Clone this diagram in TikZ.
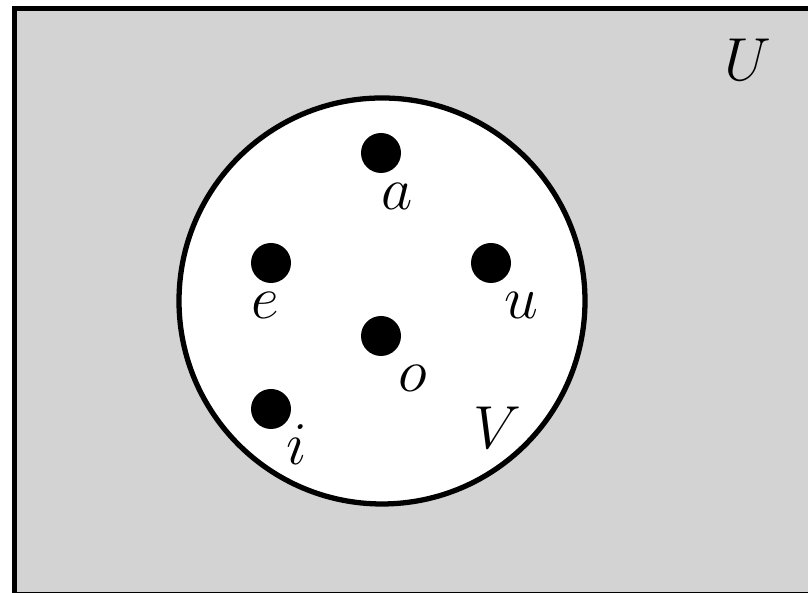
\documentclass[tikz,border=0pt]{standalone}
\usepackage{amsmath,amssymb}
\usetikzlibrary{calc}
\definecolor{universe}{RGB}{211,211,211}
\tikzset{setline/.style={line width=1.5pt},elem/.style={circle,fill=black,inner sep=0pt,minimum size=0.4cm},
 every node/.style={font=\fontsize{19}{23}\selectfont}}
\begin{document}
\begin{tikzpicture}
\useasboundingbox (0,0) rectangle (8.08,5.93);
\begin{scope}
\clip (0,0) rectangle (8.08,5.93);
\draw[setline,fill=universe] (0.145,-0.015) rectangle (8.3,5.845);
\end{scope}
\coordinate (C) at (3.82,2.92);
\draw[setline,fill=white] (C) circle(2.03);
\node[elem] (a) at (3.81,4.40) {};
\node[elem] (e) at (2.71,3.30) {};
\node[elem] (u) at (4.91,3.30) {};
\node[elem] (o) at (3.81,2.57) {};
\node[elem] (i) at (2.71,1.84) {};
\node (la) at ($(a)+(0.16,-0.43)$) {$a$};
\node (le) at ($(e)+(-0.06,-0.42)$) {$e$};
\node (lu) at ($(u)+(0.30,-0.42)$) {$u$};
\node (lo) at ($(o)+(0.32,-0.42)$) {$o$};
\node (li) at ($(i)+(0.26,-0.36)$) {$i$};
\node (V) at (4.97,1.65) {$V$};
\node (U) at (7.48,5.33) {$U$};
\end{tikzpicture}
\end{document}
